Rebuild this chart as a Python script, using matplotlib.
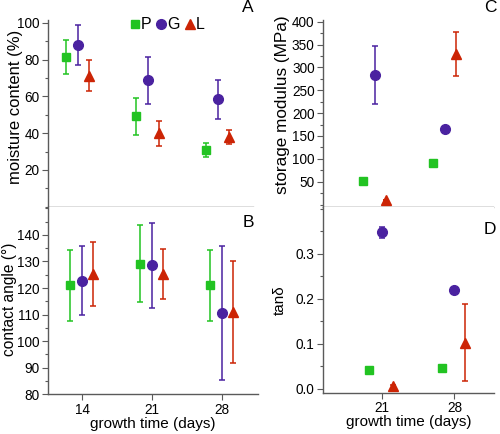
import matplotlib
matplotlib.use("Agg")
import matplotlib.pyplot as plt
from matplotlib.ticker import FixedLocator, MultipleLocator, FormatStrFormatter

plt.rcParams['font.family'] = ['Liberation Sans', 'DejaVu Sans']

# data
days_left = [14, 21, 28]
days_right = [21, 28]

moisture_P = [81.5, 49.1, 30.9]
moisture_P_err = [9.1, 10.1, 3.8]
moisture_G = [87.8, 68.7, 58.4]
moisture_G_err = [11.0, 12.7, 10.5]
moisture_L = [71.2, 39.9, 37.9]
moisture_L_err = [8.4, 6.7, 3.6]

contact_P = [121.0, 129.2, 121.0]
contact_P_err = [13.4, 14.4, 13.4]
contact_G = [122.8, 128.6, 110.5]
contact_G_err = [13.0, 16.0, 25.3]
contact_L = [125.3, 125.3, 110.9]
contact_L_err = [12.0, 9.5, 19.3]

modulus_P = [52, 90]
modulus_P_err = [0, 0]
modulus_G = [283, 165]
modulus_G_err = [64, 0]
modulus_L = [11, 329]
modulus_L_err = [0, 48]

tand_P = [0.041, 0.045]
tand_P_err = [0, 0]
tand_G = [0.347, 0.219]
tand_G_err = [0.013, 0]
tand_L = [0.005, 0.102]
tand_L_err = [0.004, 0.086]

names = ['P', 'G', 'L']
colors = ['#22c322', '#4a22a0', '#cc2405']
markers = ['s', 'o', '^']
msizes = [6.0, 7.0, 7.5]
offsets = [-1.2, 0.0, 1.05]

spine_c = '#5a5a5a'

fig = plt.figure(figsize=(5.0, 4.34), dpi=100)
axA = fig.add_axes([0.096, 0.5224, 0.410, 0.4316])
axB = fig.add_axes([0.096, 0.0915, 0.420, 0.4309])
axC = fig.add_axes([0.6466, 0.5224, 0.3394, 0.4316])
axD = fig.add_axes([0.6466, 0.0952, 0.3414, 0.4272])


def draw(ax, days, series, errs):
    handles = []
    for k in range(3):
        xs = [d + offsets[k] for d in days]
        c = ax.errorbar(xs, series[k], yerr=errs[k], fmt=markers[k], color=colors[k],
                        ms=msizes[k], mec=colors[k], elinewidth=1.1, capsize=2.0,
                        capthick=1.1)
        handles.append(c[0])
    return handles


def style(ax):
    for s in ['top', 'right']:
        ax.spines[s].set_visible(False)
    for s in ['left', 'bottom']:
        ax.spines[s].set_color(spine_c)
        ax.spines[s].set_linewidth(1.0)
    ax.tick_params(which='both', direction='out', color=spine_c, labelsize=9.8, width=0.8)
    ax.tick_params(which='major', length=4.2, pad=2)
    ax.tick_params(which='minor', length=2.4)
    ax.tick_params(axis='x', which='minor', bottom=False)


hA = draw(axA, days_left, [moisture_P, moisture_G, moisture_L],
          [moisture_P_err, moisture_G_err, moisture_L_err])
axA.set_xlim(11, 31.5)
axA.set_ylim(-0.3, 101.5)
axA.yaxis.set_major_locator(FixedLocator([20, 40, 60, 80, 100]))
axA.yaxis.set_minor_locator(MultipleLocator(10))
axA.set_xticks(days_left)
axA.set_xticklabels([])
axA.set_ylabel('moisture content (%)', fontsize=12)
axA.yaxis.set_label_coords(-0.122, 0.535)
style(axA)
axA.legend(hA, names, ncol=3, loc='center left', bbox_to_anchor=(0.36, 0.975),
           frameon=False, fontsize=11.5, handlelength=0.6, handletextpad=0.1,
           columnspacing=0.3, borderpad=0.0)

draw(axB, days_left, [contact_P, contact_G, contact_L],
     [contact_P_err, contact_G_err, contact_L_err])
axB.set_xlim(10.6, 31.6)
axB.set_ylim(80, 150.4)
axB.yaxis.set_major_locator(FixedLocator([80, 90, 100, 110, 120, 130, 140]))
axB.yaxis.set_minor_locator(MultipleLocator(5))
axB.set_xticks(days_left)
axB.set_xlabel('growth time (days)', fontsize=11, labelpad=0)
axB.set_ylabel('contact angle (°)', fontsize=11.2)
axB.yaxis.set_label_coords(-0.148, 0.51)
style(axB)

draw(axC, days_right, [modulus_P, modulus_G, modulus_L],
     [modulus_P_err, modulus_G_err, modulus_L_err])
axC.set_xlim(15.8, 32.8)
axC.set_ylim(-6, 403.7)
axC.yaxis.set_major_locator(FixedLocator([50, 100, 150, 200, 250, 300, 350, 400]))
axC.yaxis.set_minor_locator(MultipleLocator(25))
axC.set_xticks(days_right)
axC.set_xticklabels([])
axC.set_ylabel('storage modulus (MPa)', fontsize=12.3)
axC.yaxis.set_label_coords(-0.196, 0.546)
style(axC)

draw(axD, days_right, [tand_P, tand_G, tand_L],
     [tand_P_err, tand_G_err, tand_L_err])
axD.set_xlim(15.4, 31.8)
axD.set_ylim(-0.009, 0.403)
axD.yaxis.set_major_locator(FixedLocator([0.0, 0.1, 0.2, 0.3]))
axD.yaxis.set_minor_locator(MultipleLocator(0.05))
axD.yaxis.set_major_formatter(FormatStrFormatter('%.1f'))
axD.set_xticks(days_right)
axD.set_xlabel('growth time (days)', fontsize=11, labelpad=0)
axD.set_ylabel('tanδ', fontsize=11)
axD.yaxis.set_label_coords(-0.213, 0.5)
style(axD)

# panel letters
fig.text(0.496, 0.982, 'A', fontsize=12.5, ha='center', va='center')
fig.text(0.496, 0.488, 'B', fontsize=12.5, ha='center', va='center')
fig.text(0.980, 0.982, 'C', fontsize=12.5, ha='center', va='center')
fig.text(0.980, 0.472, 'D', fontsize=12.5, ha='center', va='center')

fig.savefig('out.png', dpi=100)
